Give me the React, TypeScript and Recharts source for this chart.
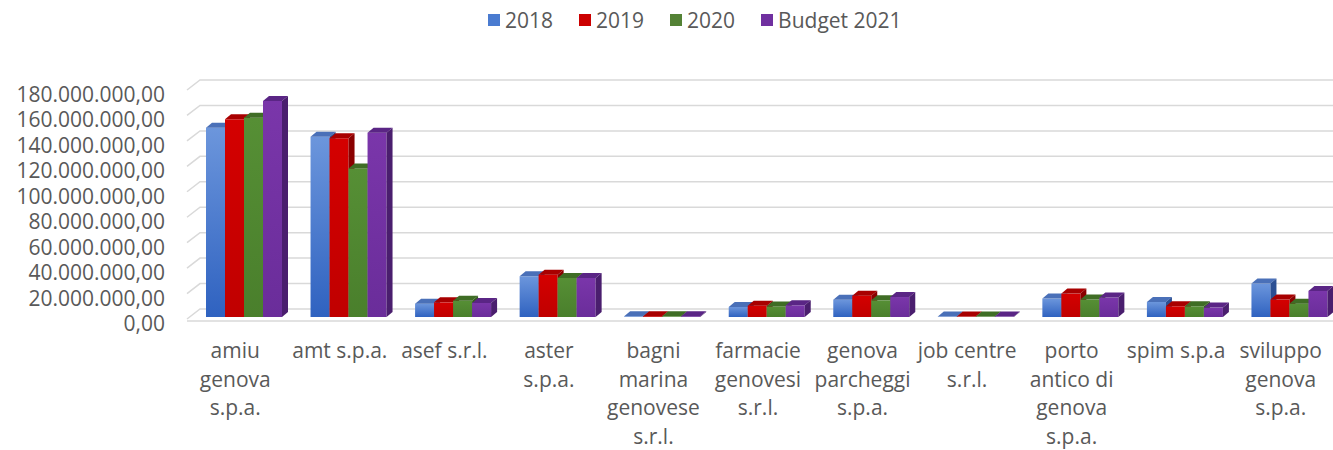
import React from 'react';
import { BarChart, Bar, XAxis, YAxis, CartesianGrid, Legend } from 'recharts';

const categories = [
  'amiu\ngenova\ns.p.a.',
  'amt s.p.a.',
  'asef s.r.l.',
  'aster\ns.p.a.',
  'bagni\nmarina\ngenovese\ns.r.l.',
  'farmacie\ngenovesi\ns.r.l.',
  'genova\nparcheggi\ns.p.a.',
  'job centre\ns.r.l.',
  'porto\nantico di\ngenova\ns.p.a.',
  'spim s.p.a',
  'sviluppo\ngenova\ns.p.a.',
];

const v2018 = [148.8e6, 141.7e6, 10.5e6, 32.0e6, 0.5e6, 7.9e6, 13.6e6, 0.3e6, 14.5e6, 11.8e6, 26.3e6];
const v2019 = [155.4e6, 140.5e6, 11.5e6, 33.3e6, 0.6e6, 8.9e6, 16.8e6, 0.3e6, 18.4e6, 8.4e6, 13.7e6];
const v2020 = [156.7e6, 116.8e6, 12.8e6, 30.7e6, 0.5e6, 8.3e6, 13.1e6, 0.3e6, 13.7e6, 8.4e6, 10.5e6];
const vBudget = [169.8e6, 144.9e6, 11.0e6, 30.7e6, 0.6e6, 9.2e6, 15.7e6, 0.3e6, 15.3e6, 7.4e6, 20.5e6];

const seriesNames = ['2018', '2019', '2020', 'Budget 2021'];
const yTicks = [0, 20e6, 40e6, 60e6, 80e6, 100e6, 120e6, 140e6, 160e6, 180e6];

const data = categories.map((name, i) => ({
  name,
  y2018: v2018[i],
  y2019: v2019[i],
  y2020: v2020[i],
  yBudget: vBudget[i],
}));

const TEXT = '#595959';
const FONT = '"Open Sans", sans-serif';

const palette = [
  { key: 'y2018', id: 'g2018', top: '#6c96dc', bottom: '#2f62c0', cap: '#4a70b8', side: '#2b4f93', legend: '#4a7bd0' },
  { key: 'y2019', id: 'g2019', top: '#d40000', bottom: '#c00000', cap: '#a80000', side: '#8a0000', legend: '#cc0000' },
  { key: 'y2020', id: 'g2020', top: '#568f35', bottom: '#4a7f2c', cap: '#3f6d25', side: '#355c1f', legend: '#548235' },
  { key: 'yBudget', id: 'gBudget', top: '#7a36aa', bottom: '#6a2d9a', cap: '#5a2585', side: '#4a1e6e', legend: '#7030a0' },
];

const fmt = (v: number) => Math.round(v).toString().replace(/\B(?=(\d{3})+(?!\d))/g, '.') + ',00';

const makeShape = (p: typeof palette[number]) => (props: any) => {
  const { x, y, width, height } = props;
  const d = 6;
  const e = 5;
  const h = Math.max(height, 0);
  return (
    <g>
      <rect x={x} y={y} width={width} height={h} fill={`url(#${p.id})`} />
      <polygon
        points={`${x},${y} ${x + width},${y} ${x + width + d},${y - e} ${x + d},${y - e}`}
        fill={p.cap}
      />
      <polygon
        points={`${x + width},${y} ${x + width + d},${y - e} ${x + width + d},${y + h - e} ${x + width},${y + h}`}
        fill={p.side}
      />
    </g>
  );
};

const XTick = (props: any) => {
  const { x, y, payload } = props;
  const lines = String(payload.value).split('\n');
  return (
    <text x={x - 9} y={y + 41} textAnchor="middle" fill={TEXT} fontSize={21} fontFamily={FONT}>
      {lines.map((l, i) => (
        <tspan key={i} x={x - 9} dy={i === 0 ? 0 : 28.6}>
          {l}
        </tspan>
      ))}
    </text>
  );
};

const YTick = (props: any) => {
  const { x, y, payload } = props;
  return (
    <text x={x} y={y} dy={14} textAnchor="end" fill={TEXT} fontSize={21} fontFamily={FONT}>
      {fmt(payload.value)}
    </text>
  );
};

const gridLine = (p: any) => {
  const { x1, x2, y1, index } = p;
  const d = `M ${x1 - 5} ${y1 + 2} L ${x1 + 8} ${y1 - 8} L ${x2} ${y1 - 8}`;
  return (
    <g key={p.key}>
      <path d={d} stroke="#d9d9d9" strokeWidth={1.5} fill="none" />
      {index === 0 ? (
        <line x1={x1 - 5} y1={y1 + 4} x2={x2} y2={y1 + 4} stroke="#d9d9d9" strokeWidth={1.5} />
      ) : null}
    </g>
  );
};

const LegendContent = () => (
  <div style={{ display: 'flex', alignItems: 'center', height: 28, fontFamily: FONT, fontSize: 21, color: TEXT, lineHeight: '28px', whiteSpace: 'nowrap' }}>
    {palette.map((p, i) => (
      <div key={p.key} style={{ display: 'flex', alignItems: 'center', marginRight: 26 }}>
        <span style={{ display: 'inline-block', width: 12, height: 12, background: p.legend, marginRight: 5 }} />
        <span>{seriesNames[i]}</span>
      </div>
    ))}
  </div>
);

export default function App() {
  return (
    <div style={{ position: 'absolute', left: 0, top: 0, width: 1333, height: 450, overflow: 'hidden', background: '#fff', fontFamily: FONT }}>
      <BarChart
        width={1342}
        height={450}
        data={data}
        margin={{ top: 60, right: 0, bottom: 0, left: 0 }}
        barSize={19}
        barGap={0}
      >
        <defs>
          {palette.map((p) => (
            <linearGradient key={p.id} id={p.id} x1="0" y1="0" x2="0" y2="1">
              <stop offset="0%" stopColor={p.top} />
              <stop offset="100%" stopColor={p.bottom} />
            </linearGradient>
          ))}
        </defs>
        <CartesianGrid vertical={false} horizontal={gridLine} />
        <XAxis
          dataKey="name"
          interval={0}
          tickLine={false}
          axisLine={false}
          tickSize={0}
          tickMargin={0}
          height={133}
          tick={<XTick />}
        />
        <YAxis
          width={192}
          domain={[0, 180e6]}
          ticks={yTicks}
          tickLine={false}
          axisLine={false}
          tickSize={0}
          tickMargin={27}
          tick={<YTick />}
        />
        <Legend
          verticalAlign="top"
          content={<LegendContent />}
          wrapperStyle={{ top: 6, left: 488, width: 460, height: 28 }}
        />
        {palette.map((p, i) => (
          <Bar key={p.key} dataKey={p.key} name={seriesNames[i]} isAnimationActive={false} shape={makeShape(p)} />
        ))}
      </BarChart>
    </div>
  );
}
